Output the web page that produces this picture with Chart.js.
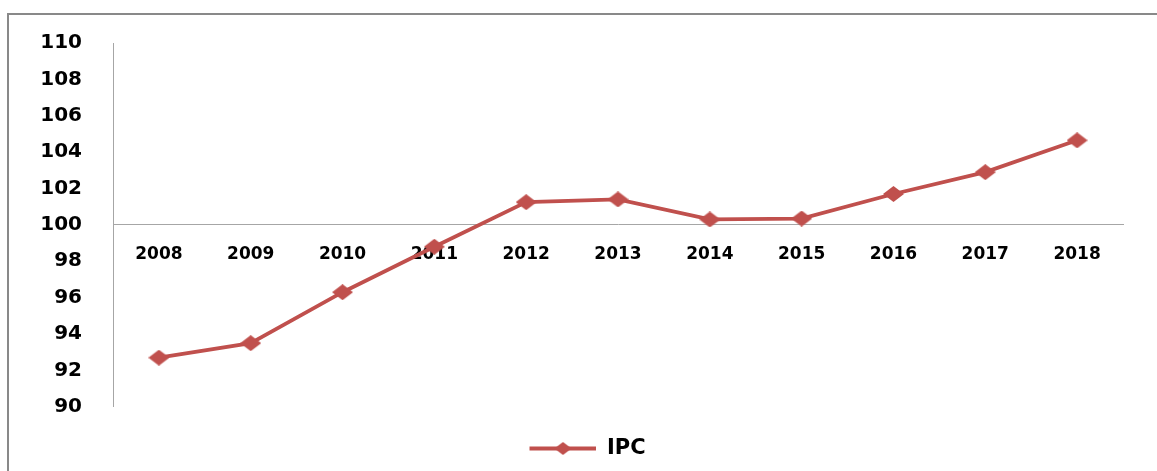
<!DOCTYPE html>
<html>
<head>
<meta charset="utf-8">
<script src="https://cdn.jsdelivr.net/npm/chart.js@4/dist/chart.umd.min.js"></script>
<style>
  html, body { margin: 0; padding: 0; background: #ffffff; }
  #wrap { position: relative; width: 1157px; height: 471px; overflow: hidden; }
  #frame { position: absolute; left: 7px; top: 13px; width: 1200px; height: 500px;
           border-top: 2px solid #898989; border-left: 2px solid #898989; }
  #c { position: absolute; left: 0; top: 0; }
</style>
</head>
<body>
<div id="wrap">
  <div id="frame"></div>
  <canvas id="c" width="1157" height="471"></canvas>
</div>
<script>
const categories = ['2008','2009','2010','2011','2012','2013','2014','2015','2016','2017','2018'];
const ipcValues = [92.7, 93.5, 96.3, 98.8, 101.25, 101.4, 100.3, 100.35, 101.7, 102.9, 104.65];
const seriesName = 'IPC';
const yMin = 90, yMax = 110, yStep = 2, xAxisCross = 100;

const RED = '#C0504D';

function diamondCanvas(w, h) {
  const cv = document.createElement('canvas');
  cv.width = w; cv.height = h;
  const ctx = cv.getContext('2d');
  ctx.fillStyle = RED;
  ctx.beginPath();
  ctx.moveTo(0, h / 2); ctx.lineTo(w / 2, 0); ctx.lineTo(w, h / 2); ctx.lineTo(w / 2, h);
  ctx.closePath(); ctx.fill();
  return cv;
}
function legendCanvas(totalW, lineStart, dw, h) {
  const cv = document.createElement('canvas');
  cv.width = totalW; cv.height = h;
  const ctx = cv.getContext('2d');
  const cy = h / 2;
  ctx.strokeStyle = RED; ctx.lineWidth = 4;
  ctx.beginPath(); ctx.moveTo(lineStart, cy); ctx.lineTo(totalW, cy); ctx.stroke();
  const cx = (lineStart + totalW) / 2;
  ctx.fillStyle = RED;
  ctx.beginPath();
  ctx.moveTo(cx - dw / 2, cy); ctx.lineTo(cx, 0); ctx.lineTo(cx + dw / 2, cy); ctx.lineTo(cx, h);
  ctx.closePath(); ctx.fill();
  return cv;
}
const pointImg = diamondCanvas(21, 16);
const legendImg = legendCanvas(89, 22, 17, 13);

new Chart(document.getElementById('c'), {
  type: 'line',
  data: {
    labels: categories,
    datasets: [{
      label: seriesName,
      data: ipcValues,
      borderColor: RED,
      backgroundColor: RED,
      borderWidth: 3.8,
      pointStyle: pointImg,
      pointRadius: 8,
      tension: 0,
      fill: false
    }]
  },
  options: {
    responsive: false,
    animation: false,
    layout: { padding: { left: 30, right: 34, top: 41, bottom: 2 } },
    scales: {
      x: {
        position: { y: xAxisCross },
        offset: true,
        grid: { display: false, drawTicks: false },
        border: { display: true, color: '#a6a6a6', width: 1 },
        ticks: { color: '#000', font: { family: 'DejaVu Sans', weight: 'bold', size: 17 }, padding: 19, maxRotation: 0, autoSkip: false }
      },
      y: {
        min: yMin, max: yMax,
        grid: { display: false, drawTicks: false },
        border: { display: true, color: '#a6a6a6', width: 1 },
        ticks: { stepSize: yStep, color: '#000', font: { family: 'DejaVu Sans', weight: 'bold', size: 20 }, padding: 31 },
        afterFit: (s) => { s.width = 83; }
      }
    },
    plugins: {
      tooltip: { enabled: false },
      legend: {
        position: 'bottom',
        title: { display: true, text: '', font: { size: 1 }, padding: { top: 0, bottom: 20 } },
        labels: {
          usePointStyle: true,
          pointStyle: legendImg,
          pointStyleWidth: 89,
          color: '#000',
          font: { family: 'DejaVu Sans', weight: 'bold', size: 21 },
          padding: 10
        }
      }
    }
  }
});
</script>
</body>
</html>
